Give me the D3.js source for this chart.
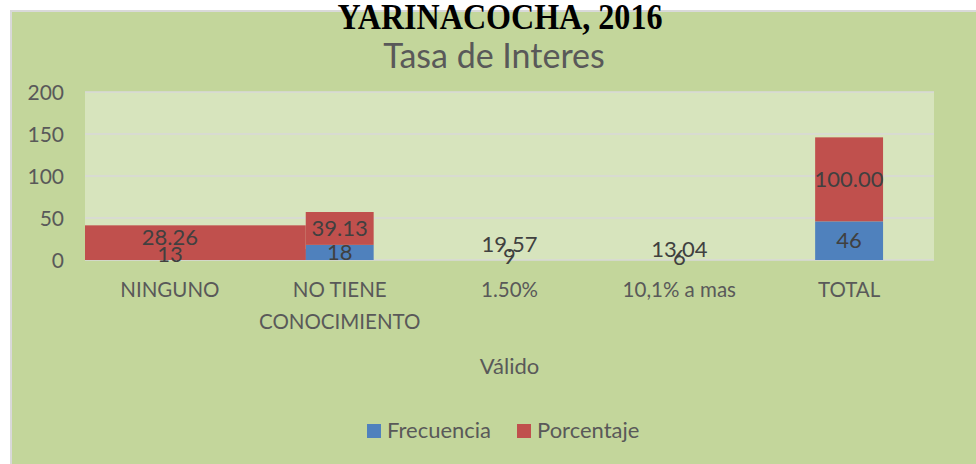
<!DOCTYPE html>
<html>
<head>
<meta charset="utf-8">
<script src="https://cdn.jsdelivr.net/npm/d3@7"></script>
<style>
  html, body { margin: 0; padding: 0; background: #ffffff; }
  svg { display: block; }
</style>
</head>
<body>
<svg id="chart" width="976" height="464"></svg>
<script>
// ---------- data ----------
const chartTitle = "YARINACOCHA, 2016";
const chartSubtitle = "Tasa de Interes";
const axisTitle = "Válido";
const categories = ["NINGUNO", "NO TIENE CONOCIMIENTO", "1.50%", "10,1% a mas", "TOTAL"];
const seriesNames = ["Frecuencia", "Porcentaje"];
const frecuencia = [13, 18, 9, 6, 46];
const porcentaje = [28.26, 39.13, 19.57, 13.04, 100.00];
const yTicks = [0, 50, 100, 150, 200];

// ---------- style ----------
const W = 976, H = 464;
const colors = { Frecuencia: "#4f81bd", Porcentaje: "#c0504d" };
const outerBg = "#c3d69b", plotBg = "#d7e4bd", gridColor = "#d9d9d9", textColor = "#595959", labelColor = "#404040";
const font = "Lato, 'Open Sans', sans-serif";
const margin = { left: 85, right: 934, top: 92, bottom: 260 };

const svg = d3.select("#chart");

// outer chart area
svg.append("rect").attr("x", 11).attr("y", 11).attr("width", W + 10).attr("height", H + 10)
  .attr("fill", outerBg).attr("stroke", gridColor).attr("stroke-width", 2);

// plot area
svg.append("rect").attr("x", margin.left).attr("y", margin.top)
  .attr("width", margin.right - margin.left).attr("height", margin.bottom - margin.top)
  .attr("fill", plotBg);

const x = d3.scaleBand().domain(categories).range([margin.left, margin.right])
  .paddingInner(0.6).paddingOuter(0.3);
const y = d3.scaleLinear().domain([0, 200]).range([margin.bottom, margin.top]);

// gridlines
svg.append("g").selectAll("line").data(yTicks).join("line")
  .attr("x1", margin.left).attr("x2", margin.right)
  .attr("y1", d => y(d)).attr("y2", d => y(d))
  .attr("stroke", gridColor).attr("stroke-width", 1.6);

// y axis labels
const yAxis = d3.axisLeft(y).tickValues(yTicks).tickSize(0).tickPadding(0).tickFormat(d3.format("d"));
const yg = svg.append("g").attr("transform", `translate(${margin.left - 21},0)`).call(yAxis);
yg.select(".domain").remove();
yg.selectAll("text").attr("font-family", font).attr("font-size", 21).attr("fill", textColor).attr("dy", "0.35em");

// stacked data
const rows = categories.map((c, i) => ({ cat: c, Frecuencia: frecuencia[i], Porcentaje: porcentaje[i] }));
const stack = d3.stack().keys(seriesNames)(rows);

// rendering quirks of the original picture
const noFill = new Set([categories[2], categories[3]]);
const widened = categories[0];

const bars = svg.append("g");
stack.forEach(layer => {
  bars.selectAll(null).data(layer).join("rect")
    .attr("x", d => d.data.cat === widened ? x.range()[0] : x(d.data.cat))
    .attr("width", d => d.data.cat === widened ? x(categories[1]) - x.range()[0] : x.bandwidth())
    .attr("y", d => y(d[1]))
    .attr("height", d => d.data.cat === widened && layer.key === "Porcentaje" ? y(0) - y(d[1]) : y(d[0]) - y(d[1]))
    .attr("fill", d => noFill.has(d.data.cat) ? "none" : colors[layer.key]);
});

// data labels
const fmt = { Frecuencia: d3.format("d"), Porcentaje: d3.format(".2f") };
const labels = svg.append("g");
stack.forEach(layer => {
  labels.selectAll(null).data(layer).join("text")
    .attr("x", d => x(d.data.cat) + x.bandwidth() / 2)
    .attr("y", d => y((d[0] + d[1]) / 2))
    .attr("dy", "0.35em")
    .attr("text-anchor", "middle")
    .attr("font-family", font).attr("font-size", 22).attr("fill", labelColor)
    .text(d => fmt[layer.key](d.data[layer.key]));
});

// x axis labels (wrapped)
const xAxis = d3.axisBottom(x).tickSize(0).tickPadding(0);
const xg = svg.append("g").attr("transform", `translate(0,${margin.bottom})`).call(xAxis);
xg.select(".domain").remove();
xg.selectAll("text").attr("font-family", font).attr("font-size", 20.5).attr("fill", textColor)
  .attr("dy", null).attr("y", 37)
  .each(function(d) {
    const t = d3.select(this);
    const words = d.split(" ");
    const maxW = x.step() - 10;
    t.text(null);
    let line = [], lineNo = 0;
    let tspan = t.append("tspan").attr("x", 0).attr("y", 37);
    words.forEach(w => {
      line.push(w);
      tspan.text(line.join(" "));
      if (tspan.node().getComputedTextLength() > maxW && line.length > 1) {
        line.pop();
        tspan.text(line.join(" "));
        line = [w];
        lineNo++;
        tspan = t.append("tspan").attr("x", 0).attr("y", 37 + lineNo * 32).text(w);
      }
    });
  });

// axis title
svg.append("text").attr("x", (margin.left + margin.right) / 2).attr("y", 374)
  .attr("text-anchor", "middle").attr("font-family", font).attr("font-size", 22).attr("fill", textColor)
  .text(axisTitle);

// titles
svg.append("text").attr("x", 500).attr("y", 29).attr("text-anchor", "middle")
  .attr("font-family", "'Liberation Serif', 'Times New Roman', serif").attr("font-weight", "bold")
  .attr("font-size", 36).attr("textLength", 325).attr("lengthAdjust", "spacingAndGlyphs")
  .attr("fill", "#000").text(chartTitle);
svg.append("text").attr("x", 494).attr("y", 68).attr("text-anchor", "middle")
  .attr("font-family", font).attr("font-size", 34).attr("fill", textColor)
  .text(chartSubtitle);

// legend
const legend = svg.append("g");
const legendX = [367, 517];
seriesNames.forEach((s, i) => {
  legend.append("rect").attr("x", legendX[i]).attr("y", 424).attr("width", 14).attr("height", 14).attr("fill", colors[s]);
  legend.append("text").attr("x", legendX[i] + 20).attr("y", 438)
    .attr("font-family", font).attr("font-size", 22).attr("fill", textColor).text(s);
});
</script>
</body>
</html>
